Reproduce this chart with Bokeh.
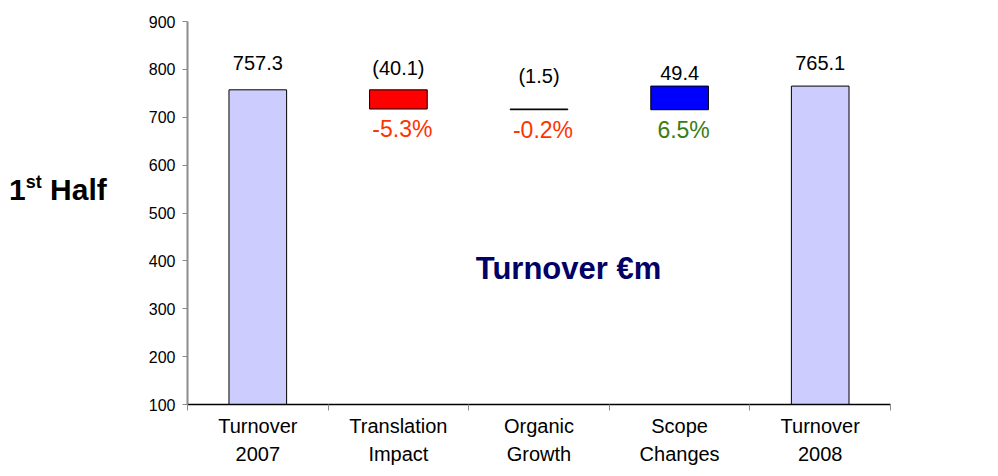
from bokeh.plotting import figure
from bokeh.models import (Range1d, FixedTicker, ColumnDataSource, Label, Div)
from bokeh.layouts import row
from bokeh.core.properties import value
from bokeh.embed import file_html
from bokeh.resources import INLINE

# ---- data ----
categories = ["Turnover 2007", "Translation Impact", "Organic Growth",
              "Scope Changes", "Turnover 2008"]
tick_labels = ["Turnover\n2007", "Translation\nImpact", "Organic\nGrowth",
               "Scope\nChanges", "Turnover\n2008"]
kinds = ["total", "delta", "delta", "delta", "total"]
amounts = [757.3, -40.1, -1.5, 49.4, 765.1]
value_labels = ["757.3", "(40.1)", "(1.5)", "49.4", "765.1"]
pct_labels = ["", "-5.3%", "-0.2%", "6.5%", ""]
y_ticks = [100, 200, 300, 400, 500, 600, 700, 800, 900]

# ---- styles ----
bar_colors = ["#CCCCFF", "#FF0000", "#000000", "#0000FF", "#CCCCFF"]
pct_colors = ["#FF3300", "#FF3300", "#FF3300", "#3A7D12", "#FF3300"]
label_offsets = [-27, -22, -33, -13, -23]
FONT = "Liberation Sans"
BASE = 100

n = len(categories)
centers = [i + 0.5 for i in range(n)]
edges = [float(i) for i in range(n + 1)]

bottoms, tops = [], []
running = 0.0
for k, a in zip(kinds, amounts):
    if k == "total":
        bottoms.append(BASE)
        tops.append(a)
        running = a
    else:
        new = running + a
        bottoms.append(min(running, new))
        tops.append(max(running, new))
        running = new

src = ColumnDataSource(dict(x=centers, cat=categories, bottom=bottoms, top=tops,
                            color=bar_colors, vlabel=value_labels,
                            plabel=pct_labels, pcolor=pct_colors,
                            voff=label_offsets))

p = figure(width=836, height=468, x_range=Range1d(0, n),
           y_range=Range1d(100, 900),
           output_backend="svg", toolbar_location=None,
           min_border_left=39, min_border_right=91, min_border_top=21,
           min_border_bottom=50)
p.outline_line_color = None
p.grid.visible = False
p.background_fill_color = "white"
p.border_fill_color = "white"

p.vbar(x="x", bottom="bottom", top="top", width=0.41, fill_color="color",
       line_color="black", line_width=1, source=src)

p.text(x="x", y="top", text="vlabel", y_offset="voff", source=src,
       text_align="center", text_baseline="alphabetic",
       text_font=value(FONT), text_font_size="20px", text_color="black")
p.text(x="x", y="bottom", text="plabel", source=src, x_offset=4, y_offset=7,
       text_align="center", text_baseline="top", text_color="pcolor",
       text_font=value(FONT), text_font_size="23px")

# y axis
ya = p.yaxis[0]
ya.ticker = FixedTicker(ticks=y_ticks)
ya.axis_line_color = "#8C8C8C"
ya.axis_line_width = 2
ya.major_tick_line_color = "#8C8C8C"
ya.major_tick_out = 5
ya.major_tick_in = 0
ya.minor_tick_line_color = None
ya.major_label_text_font = FONT
ya.major_label_text_font_size = "16px"
ya.major_label_text_color = "black"
ya.major_label_standoff = 7

# x axis (labels at centers, ticks at category boundaries)
xa = p.xaxis[0]
xa.ticker = FixedTicker(ticks=centers, minor_ticks=edges)
xa.major_label_overrides = {c: t for c, t in zip(centers, tick_labels)}
xa.axis_line_color = "black"
xa.axis_line_width = 1.5
xa.major_tick_line_color = None
xa.minor_tick_line_color = "#8C8C8C"
xa.minor_tick_out = 6
xa.minor_tick_in = 0
xa.major_label_text_font = FONT
xa.major_label_text_font_size = "20px"
xa.major_label_text_color = "black"
xa.major_label_text_line_height = 1.3
xa.major_label_standoff = 4

# annotation inside the frame
p.add_layout(Label(x=381, y=136, x_units="screen", y_units="screen",
                   text="Turnover €m", text_align="center",
                   text_baseline="middle", text_font=FONT,
                   text_font_size="31px", text_font_style="bold",
                   text_color="#000066"))

side = Div(text=('<div style="font-family:\'Liberation Sans\',Arial,sans-serif;'
                 'font-weight:bold;font-size:30px;line-height:30px;'
                 'color:black;padding-top:170px;padding-left:4px;'
                 'white-space:nowrap;">'
                 '1<sup style="font-size:18px;vertical-align:12px;'
                 'line-height:0;">st</sup> Half</div>'),
           width=135, height=468)

layout = row(side, p)
open("out.html", "w").write(file_html(layout, INLINE))
